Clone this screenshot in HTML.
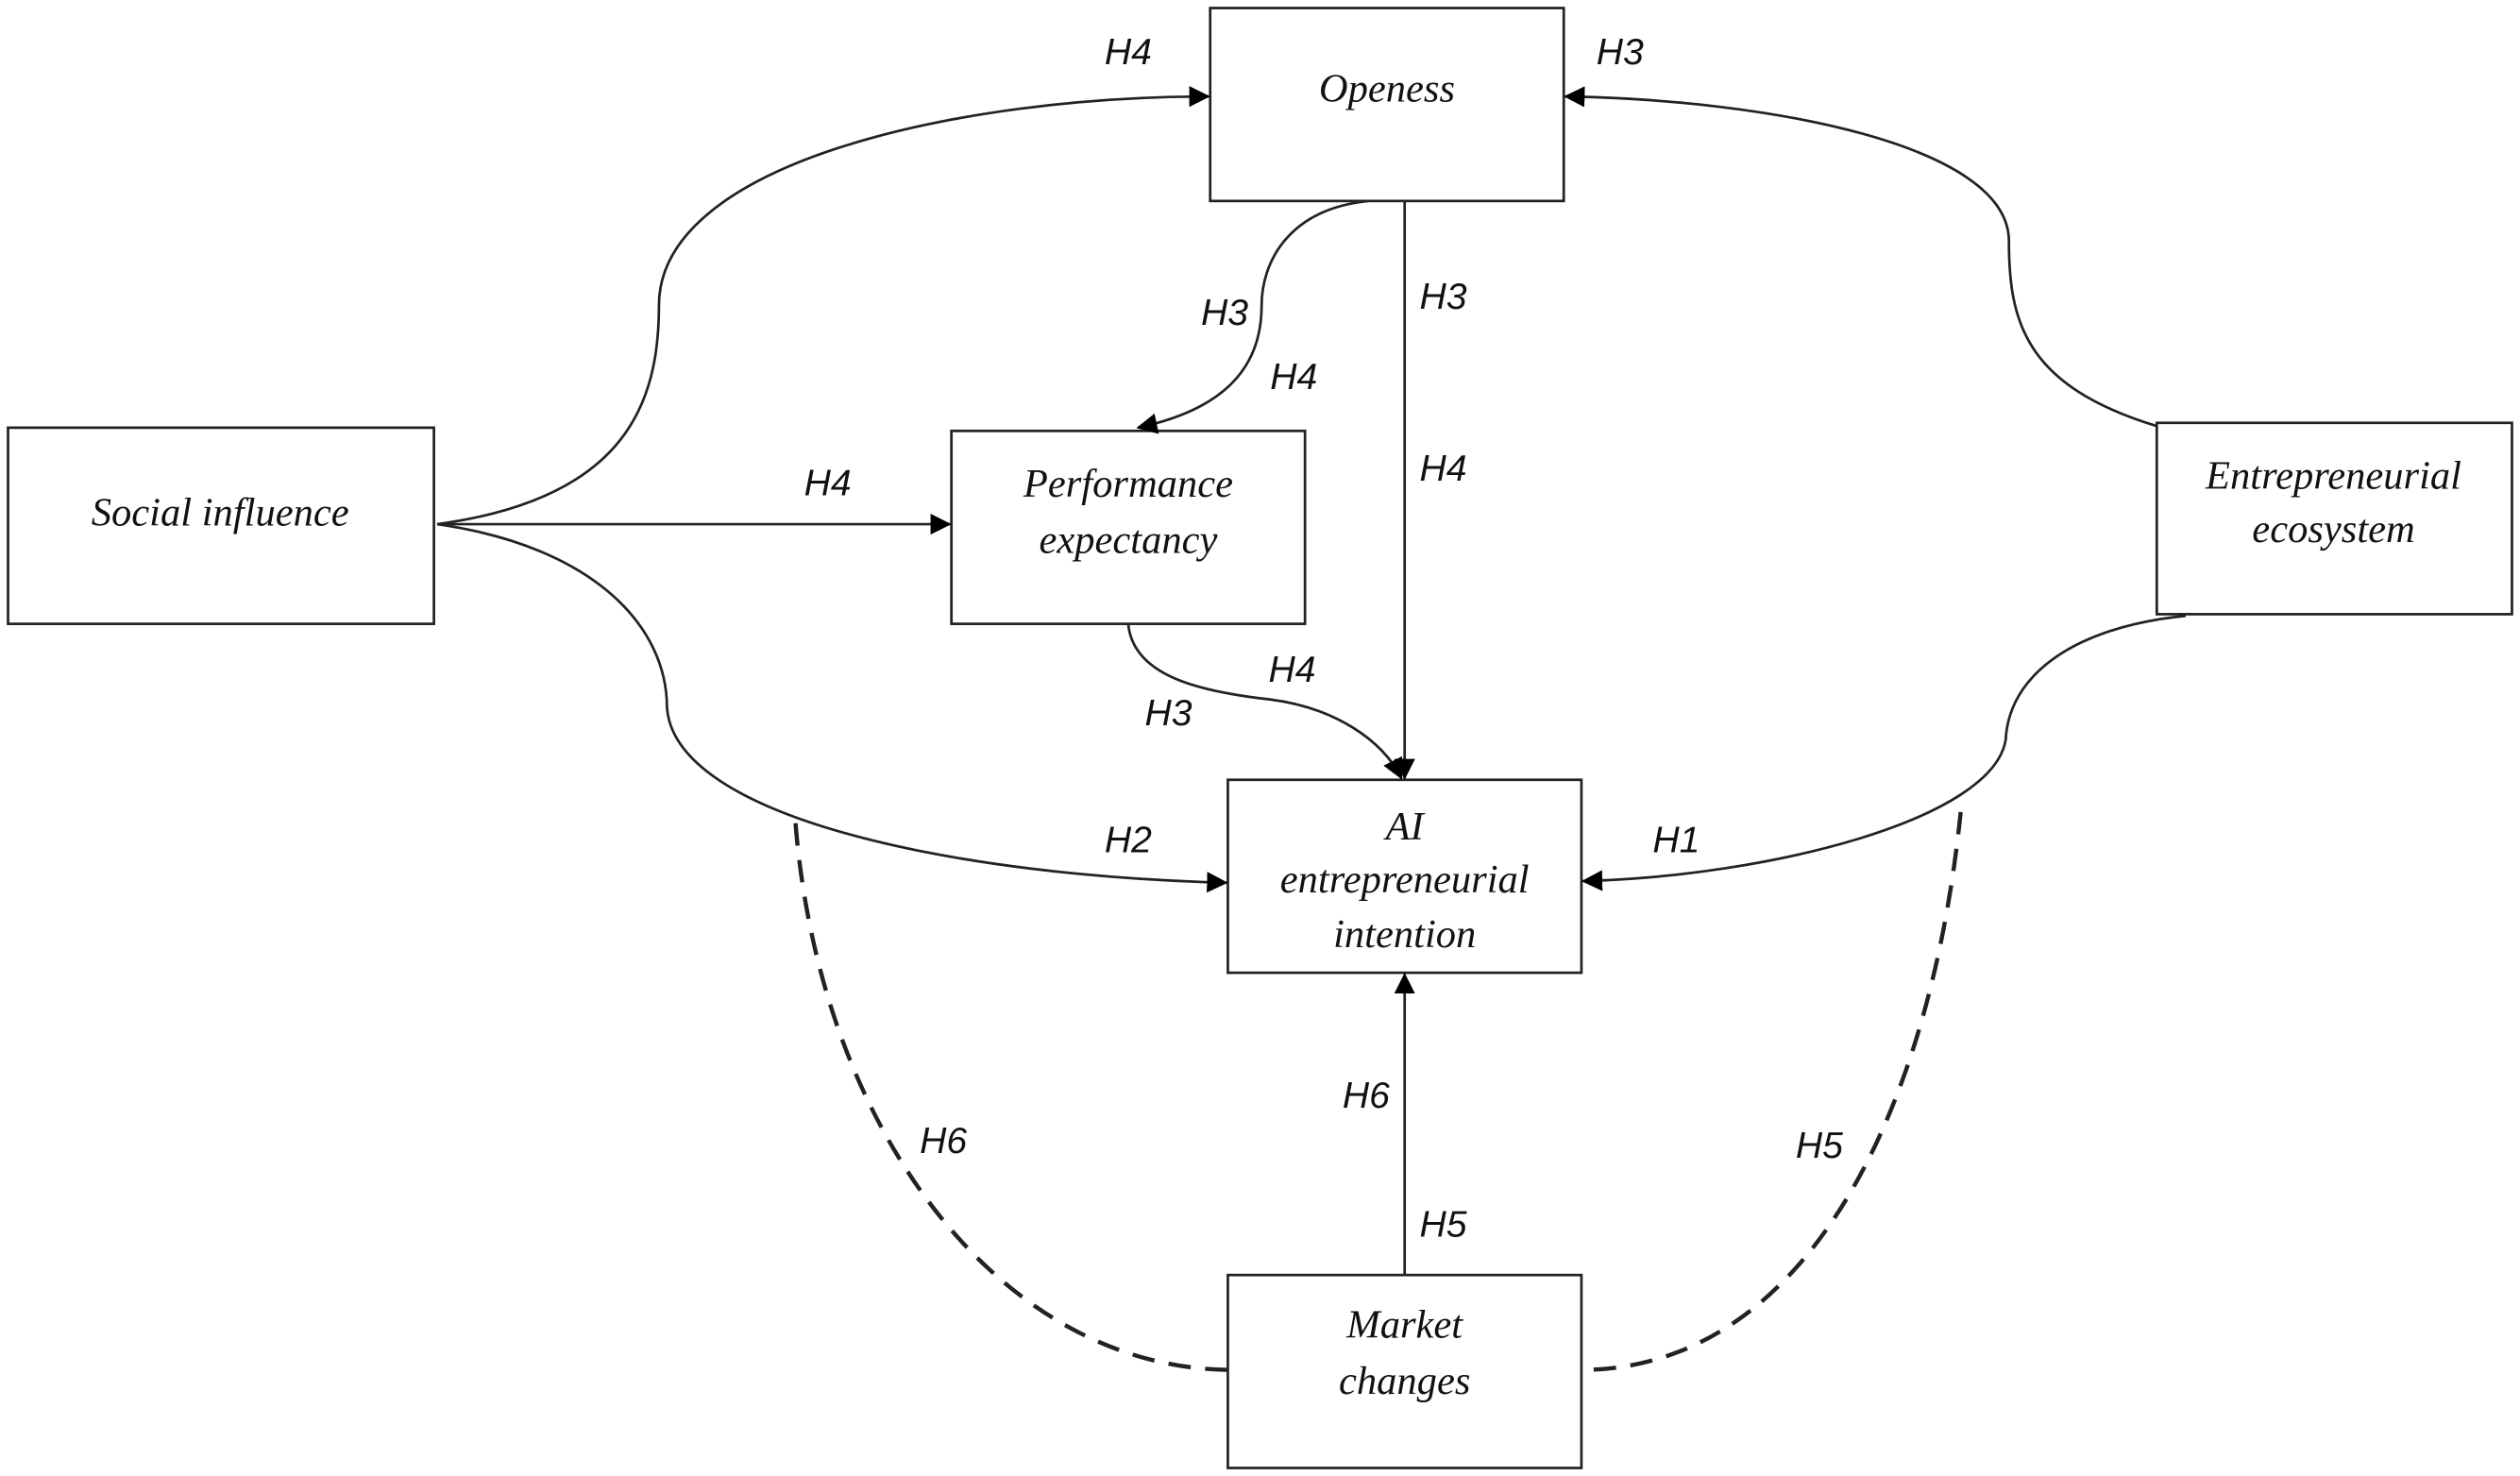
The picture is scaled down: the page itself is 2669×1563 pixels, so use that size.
<!DOCTYPE html>
<html><head><meta charset="utf-8"><style>
html,body{margin:0;padding:0;background:#fff;}
svg{display:block;}
.n{font-family:"Liberation Serif",serif;font-style:italic;font-size:25px;fill:#111;text-anchor:middle;}
.l{font-family:"Liberation Sans",sans-serif;font-style:italic;font-size:23px;fill:#111;text-anchor:middle;}
</style></head><body>
<svg width="2669" height="1563" viewBox="0 0 1568 918" preserveAspectRatio="none" xmlns="http://www.w3.org/2000/svg">
<defs><marker id="a" markerWidth="13" markerHeight="13" refX="12" refY="6.5" orient="auto" markerUnits="userSpaceOnUse"><path d="M0,0 L13,6.5 L0,13 z" fill="#000"/></marker></defs>
<g fill="none" stroke="#222" stroke-width="1.6">
<rect x="753" y="5" width="220" height="120"/>
<rect x="5" y="266" width="265" height="122"/>
<rect x="592" y="268" width="220" height="120"/>
<rect x="1342" y="263" width="221" height="119"/>
<rect x="764" y="485" width="220" height="120"/>
<rect x="764" y="793" width="220" height="120"/>
<path d="M272,326 C390,310 410,250 410,190 C410,100 600,60 752,60" marker-end="url(#a)"/>
<path d="M272,326 L591,326" marker-end="url(#a)"/>
<path d="M272,326 C370,340 415,390 415,440 C420,510 600,545 763,549" marker-end="url(#a)"/>
<path d="M852,125 C800,130 785,165 785,190 C785,230 760,255 708,266" marker-end="url(#a)"/>
<path d="M874,125 L874,484" marker-end="url(#a)"/>
<path d="M702,388 C705,420 745,430 790,435 C830,440 860,460 872,484" marker-end="url(#a)"/>
<path d="M1342,265 C1260,240 1250,200 1250,150 C1250,90 1100,62 974,60" marker-end="url(#a)"/>
<path d="M1360,383 C1290,390 1250,420 1248,460 C1240,510 1100,545 985,548" marker-end="url(#a)"/>
<path d="M874,793 L874,606" marker-end="url(#a)"/>
<path d="M495,512 C510,700 620,850 764,852" stroke-dasharray="14,9" stroke-width="2.6"/>
<path d="M1220,505 C1200,700 1120,850 986,852" stroke-dasharray="14,9" stroke-width="2.6"/>
</g>
<text class="n" x="863" y="63">Openess</text>
<text class="n" x="137" y="327">Social influence</text>
<text class="n" x="702" y="309">Performance</text>
<text class="n" x="702" y="344">expectancy</text>
<text class="n" x="1452" y="304">Entrepreneurial</text>
<text class="n" x="1452" y="337">ecosystem</text>
<text class="n" x="874" y="522">AI</text>
<text class="n" x="874" y="555">entrepreneurial</text>
<text class="n" x="874" y="589">intention</text>
<text class="n" x="874" y="832">Market</text>
<text class="n" x="874" y="867">changes</text>
<text class="l" x="702" y="40">H4</text>
<text class="l" x="1008" y="40">H3</text>
<text class="l" x="762" y="202">H3</text>
<text class="l" x="898" y="192">H3</text>
<text class="l" x="805" y="242">H4</text>
<text class="l" x="515" y="308">H4</text>
<text class="l" x="898" y="299">H4</text>
<text class="l" x="804" y="424">H4</text>
<text class="l" x="727" y="451">H3</text>
<text class="l" x="702" y="530">H2</text>
<text class="l" x="1043" y="530">H1</text>
<text class="l" x="850" y="689">H6</text>
<text class="l" x="898" y="769">H5</text>
<text class="l" x="587" y="717">H6</text>
<text class="l" x="1132" y="720">H5</text>
</svg>
</body></html>
